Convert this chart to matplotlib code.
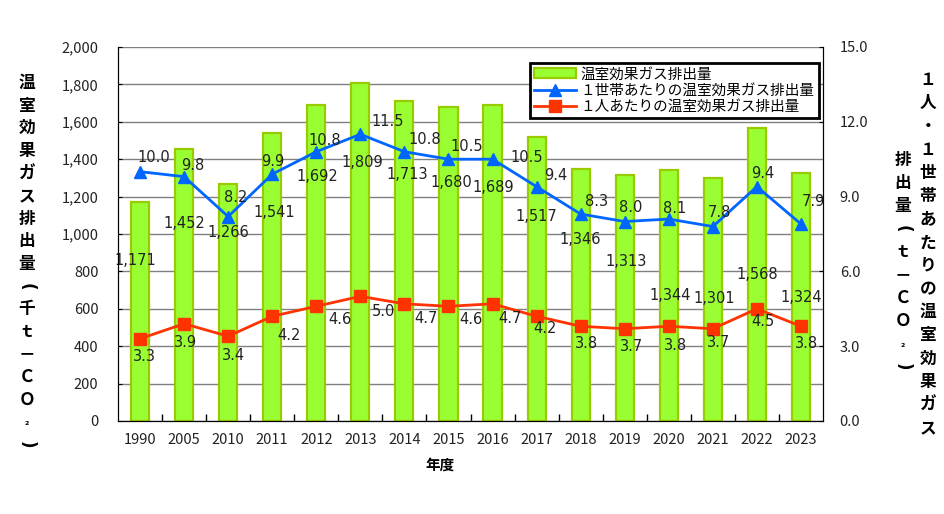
import numpy as np
import matplotlib.pyplot as plt
from matplotlib.ticker import FuncFormatter, FixedLocator

plt.rcParams['font.family'] = ['Noto Sans CJK JP', 'DejaVu Sans']

years = ['1990', '2005', '2010', '2011', '2012', '2013', '2014', '2015',
         '2016', '2017', '2018', '2019', '2020', '2021', '2022', '2023']
emissions = [1171, 1452, 1266, 1541, 1692, 1809, 1713, 1680,
             1689, 1517, 1346, 1313, 1344, 1301, 1568, 1324]
per_household = [10.0, 9.8, 8.2, 9.9, 10.8, 11.5, 10.8, 10.5,
                 10.5, 9.4, 8.3, 8.0, 8.1, 7.8, 9.4, 7.9]
per_person = [3.3, 3.9, 3.4, 4.2, 4.6, 5.0, 4.7, 4.6,
              4.7, 4.2, 3.8, 3.7, 3.8, 3.7, 4.5, 3.8]

# label offsets in pixels (dx, dy downward)
bar_lab_off = [(-5, 58), (0, 74), (0, 48), (2, 80), (1, 72), (2, 80), (3, 74), (3, 76),
               (1, 82), (0, 79), (0, 70), (1, 86), (1, 126), (1, 121), (0, 147), (0, 124)]
hh_lab_off = [(14, 14), (9, 11), (8, 19), (1, 13), (8, 11), (27, 13), (20, 12), (18, 13),
              (34, 2), (19, 11), (16, 13), (6, 14), (6, 11), (7, 14), (6, 13), (12, 23)]
pp_lab_off = [(4, -18), (1, -19), (5, -19), (17, -19), (24, -13), (23, -15), (22, -15), (22, -13),
              (17, -15), (8, -12), (6, -17), (7, -18), (7, -19), (6, -14), (6, -13), (6, -17)]

txt_col = '#222222'
x = np.arange(len(years))

fig = plt.figure(figsize=(9.45, 5.14), dpi=100)
ax = fig.add_axes([118/945, 93/514, 705/945, 374/514])
ax2 = ax.twinx()

bars = ax.bar(x, emissions, width=0.41, color='#99ff33', edgecolor='#99cc00',
              linewidth=1.6, label='温室効果ガス排出量', zorder=2)
ax.set_ylim(0, 2000)
ax.set_xlim(-0.5, len(years) - 0.5)
ax.set_yticks(np.arange(0, 2001, 200))
ax.yaxis.set_major_formatter(FuncFormatter(lambda v, p: f'{int(v):,}'))
ax.grid(axis='y', color='#808080', linewidth=1)
ax.set_axisbelow(True)
ax.set_xticks(x)
ax.set_xticklabels(years)
ax.xaxis.set_minor_locator(FixedLocator(x[:-1] + 0.5))
ax.tick_params(axis='x', which='major', length=0, pad=9, labelsize=10.5, labelcolor=txt_col)
ax.tick_params(axis='x', which='minor', direction='in', length=5, width=1)
ax.tick_params(axis='y', direction='in', length=3, labelsize=10.5, labelcolor=txt_col, pad=14)
ax.spines['top'].set_visible(False)

for xi, v, (dx, dy) in zip(x, emissions, bar_lab_off):
    ax.annotate(f'{v:,}', (xi, v), xytext=(dx, -dy), textcoords='offset pixels',
                ha='center', va='center', fontsize=10.5, color=txt_col, zorder=5,
                family='DejaVu Sans')

ax2.plot(x, per_household, color='#0066ff', lw=2, marker='^', markersize=9,
         label='１世帯あたりの温室効果ガス排出量', zorder=3)
ax2.plot(x, per_person, color='#ff3300', lw=2, marker='s', markersize=8,
         label='１人あたりの温室効果ガス排出量', zorder=3)
ax2.set_ylim(0, 15)
ax2.set_yticks(np.arange(0, 15.1, 3))
ax2.yaxis.set_major_formatter(FuncFormatter(lambda v, p: f'{v:.1f}'))
ax2.tick_params(axis='y', direction='in', length=3, labelsize=10.5, labelcolor=txt_col, pad=12)
ax2.spines['top'].set_visible(False)

for xi, v, (dx, dy) in zip(x, per_household, hh_lab_off):
    ax2.annotate(f'{v:.1f}', (xi, v), xytext=(dx, dy), textcoords='offset pixels',
                 ha='center', va='center', fontsize=10.5, color=txt_col, family='DejaVu Sans')
for xi, v, (dx, dy) in zip(x, per_person, pp_lab_off):
    ax2.annotate(f'{v:.1f}', (xi, v), xytext=(dx, dy), textcoords='offset pixels',
                 ha='center', va='center', fontsize=10.5, color=txt_col, family='DejaVu Sans')

h1, l1 = ax.get_legend_handles_labels()
h2, l2 = ax2.get_legend_handles_labels()
leg = ax2.legend(h1 + h2, l1 + l2, loc='upper left', bbox_to_anchor=(0.584, 0.957),
                 fontsize=10.5, fancybox=False, framealpha=1, edgecolor='black',
                 handlelength=2.9, borderpad=0.3, labelspacing=0.15, handletextpad=0.3,
                 borderaxespad=0)
leg.get_frame().set_linewidth(2)

fig.text(440/945, 1 - 465/514, '年度', ha='center', va='center', fontsize=10.5,
         fontweight='bold')

def vtext(chars, xc, y0, y1, size=12):
    ys = np.linspace(y0, y1, len(chars))
    for c, yy in zip(chars, ys):
        sz = size * 0.6 if c == '₂' else size
        rot = 0
        fam = ['Noto Sans CJK JP', 'DejaVu Sans']
        if c in '()':
            rot = -90
            fam = 'DejaVu Sans'
        fig.text(xc/945, 1 - yy/514, c, ha='center', va='center', fontsize=sz,
                 fontweight='bold', rotation=rot, family=fam)

vtext(list('温室効果ガス排出量(千ｔ－ＣＯ₂)'), 27, 83, 445)
vtext(list('１人・１世帯あたりの温室効果ガス'), 928, 80, 428)
vtext(list('排出量(ｔ－ＣＯ₂)'), 903, 160, 367)

fig.savefig('out.png', dpi=100)
